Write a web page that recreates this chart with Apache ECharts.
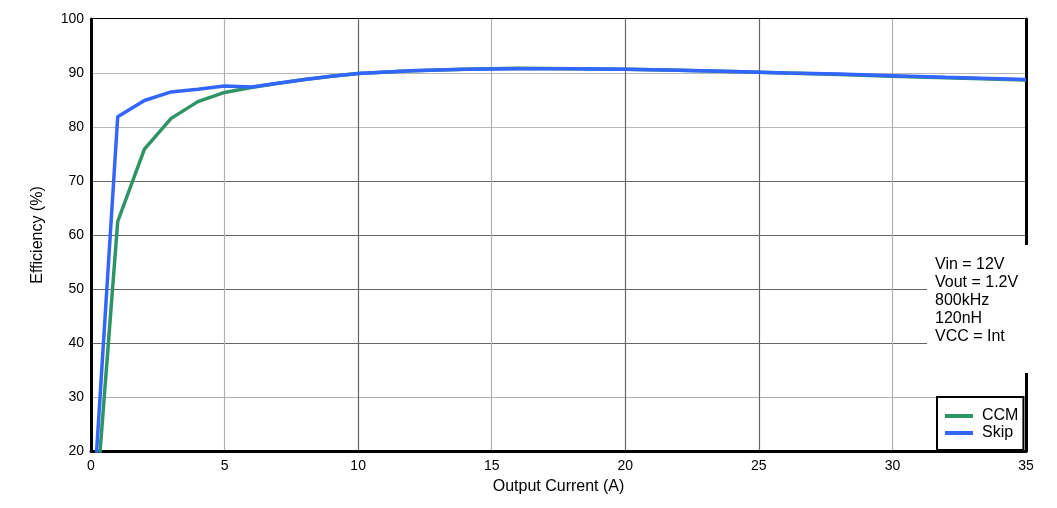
<!DOCTYPE html>
<html>
<head>
<meta charset="utf-8">
<script src="https://cdn.jsdelivr.net/npm/echarts@6/dist/echarts.min.js"></script>
<style>html,body{margin:0;padding:0;background:#fff}#c{width:1057px;height:508px}</style>
</head>
<body>
<div id="c"></div>
<script>
var ccmX = [0.1, 1, 2, 3, 4, 5, 6, 7, 8, 9, 10, 12, 14, 16, 18, 20, 22, 24, 26, 28, 30, 32, 35];
var ccmY = [4.5, 62.5, 75.9, 81.6, 84.7, 86.4, 87.3, 88.1, 88.8, 89.4, 89.9, 90.4, 90.7, 90.9, 90.8, 90.7, 90.5, 90.3, 90.0, 89.7, 89.4, 89.1, 88.7];
var skipX = [0.1, 1, 2, 3, 4, 5, 6, 7, 8, 9, 10, 12, 14, 16, 18, 20, 22, 24, 26, 28, 30, 32, 35];
var skipY = [11.3, 81.9, 84.9, 86.5, 87.0, 87.6, 87.4, 88.1, 88.8, 89.4, 89.9, 90.4, 90.7, 90.8, 90.8, 90.7, 90.5, 90.3, 90.0, 89.8, 89.5, 89.2, 88.8];
var seriesNames = ['CCM', 'Skip'];
var noteLines = ['Vin = 12V', 'Vout = 1.2V', '800kHz', '120nH', 'VCC = Int'];
var xAxisTitle = 'Output Current (A)';
var yAxisTitle = 'Efficiency (%)';

function pairs(xs, ys) { return xs.map(function (x, i) { return [x, ys[i]]; }); }

var font = 'Liberation Sans, Arial, sans-serif';
var chart = echarts.init(document.getElementById('c'));
chart.setOption({
  animation: false,
  textStyle: { fontFamily: font },
  grid: { left: 91, right: 31, top: 19, bottom: 57, show: true, borderColor: '#000', borderWidth: 2, backgroundColor: 'transparent' },
  xAxis: [{
    type: 'value', min: 0, max: 35, interval: 5,
    name: xAxisTitle, nameLocation: 'middle', nameGap: 28,
    nameTextStyle: { fontSize: 16, color: '#000', fontFamily: font },
    axisLine: { show: true, onZero: false, lineStyle: { color: '#000', width: 3 } },
    axisTick: { show: false },
    axisLabel: { fontSize: 14, color: '#000', margin: 8, fontFamily: font },
    splitLine: { show: true, lineStyle: { width: 1.2, color: ['#fff', '#b0b0b0', '#666', '#b0b0b0', '#666', '#666', '#b0b0b0', '#fff'] } }
  }],
  yAxis: [{
    type: 'value', min: 20, max: 100, interval: 10,
    name: yAxisTitle, nameLocation: 'middle', nameGap: 45,
    nameTextStyle: { fontSize: 16, color: '#000', fontFamily: font },
    axisLine: { show: true, onZero: false, lineStyle: { color: '#000', width: 3 } },
    axisTick: { show: false },
    axisLabel: { fontSize: 14, color: '#000', margin: 7, fontFamily: font },
    splitLine: { show: true, lineStyle: { width: 1.2, color: ['#fff', '#b0b0b0', '#666', '#666', '#666', '#666', '#b8b8b8', '#b8b8b8', '#fff'] } }
  }, {
    type: 'value', min: 20, max: 100, interval: 10, position: 'right',
    axisLine: { show: true, onZero: false, lineStyle: { color: '#000', width: 3 } },
    axisTick: { show: false }, axisLabel: { show: false }, splitLine: { show: false }
  }],
  legend: {
    orient: 'vertical', left: 937, top: 397, z: 200,
    borderColor: '#000', borderWidth: 2, padding: [11, 5, 9, 8],
    backgroundColor: '#fff', itemGap: 1,
    itemWidth: 28, itemHeight: 4, icon: 'rect',
    textStyle: { fontSize: 16, color: '#000', fontFamily: font, padding: [0, 0, 0, 4] },
    data: seriesNames
  },
  graphic: [
    { type: 'rect', left: 927, top: 245, z: 100, shape: { width: 123, height: 128 }, style: { fill: '#fff' } },
    { type: 'text', left: 935, top: 256, z: 101, style: { text: noteLines.join('\n'), font: '16px ' + font, fill: '#000', lineHeight: 17.8 } }
  ],
  series: [{
    name: seriesNames[0], type: 'line', data: pairs(ccmX, ccmY),
    showSymbol: false, symbol: 'none', clip: true,
    lineStyle: { color: '#2e9466', width: 3.5 }, itemStyle: { color: '#2e9466' }
  }, {
    name: seriesNames[1], type: 'line', data: pairs(skipX, skipY),
    showSymbol: false, symbol: 'none', clip: true,
    lineStyle: { color: '#3366ff', width: 3.5 }, itemStyle: { color: '#3366ff' }
  }]
});
</script>
</body>
</html>
